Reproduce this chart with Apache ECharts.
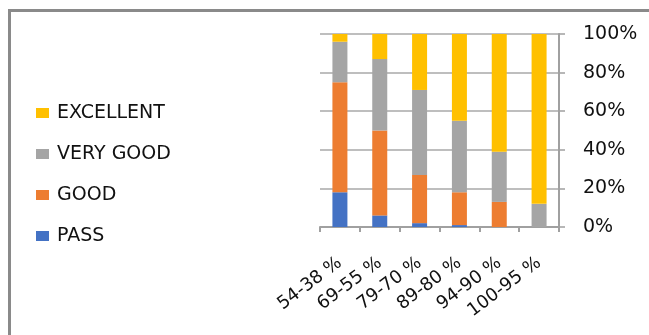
<!DOCTYPE html>
<html>
<head>
<meta charset="utf-8">
<script src="https://cdn.jsdelivr.net/npm/echarts@6/dist/echarts.min.js"></script>
<style>
  html, body { margin: 0; padding: 0; background: #fff; }
  #chart { width: 649px; height: 335px; }
</style>
</head>
<body>
<div id="chart"></div>
<script>
// Score bands and the share of each grade inside them (percent of the band)
const categories = ['54-38 %', '69-55 %', '79-70 %', '89-80 %', '94-90 %', '100-95 %'];
const pass      = [18, 6, 2, 1, 0, 0];
const good      = [57, 44, 25, 17, 13, 0];
const veryGood  = [21, 37, 44, 37, 26, 12];
const excellent = [4, 13, 29, 45, 61, 88];
const yTicks = [0, 20, 40, 60, 80, 100];

const FONT = 'DejaVu Sans';
const chart = echarts.init(document.getElementById('chart'), null, { renderer: 'canvas' });

function bar(name, data, color) {
  return {
    name: name,
    type: 'bar',
    stack: 'share',
    data: data,
    barWidth: 15,
    itemStyle: { color: color },
    emphasis: { disabled: true }
  };
}

chart.setOption({
  animation: false,
  backgroundColor: '#ffffff',
  textStyle: { fontFamily: FONT },
  graphic: [{
    type: 'polyline',
    shape: { points: [[9.5, 340], [9.5, 10.5], [660, 10.5]] },
    style: { stroke: '#8a8a8a', lineWidth: 3, fill: null },
    silent: true
  }],
  legend: {
    orient: 'vertical',
    left: 36,
    top: 103,
    padding: 0,
    itemWidth: 13,
    itemHeight: 10,
    itemGap: 21,
    icon: 'rect',
    data: ['EXCELLENT', 'VERY GOOD', 'GOOD', 'PASS'],
    textStyle: { fontFamily: FONT, fontSize: 19, color: '#111', lineHeight: 20, padding: [0, 0, 0, 3] },
    selectedMode: false
  },
  grid: { left: 320, right: 90, top: 34, bottom: 108, containLabel: false },
  xAxis: {
    type: 'category',
    data: categories,
    boundaryGap: true,
    axisLine: { show: true, lineStyle: { color: '#a0a0a0', width: 2 } },
    axisTick: { show: true, alignWithLabel: false, length: 5, lineStyle: { color: '#a0a0a0', width: 2 } },
    axisLabel: {
      rotate: 37,
      margin: 34,
      interval: 0,
      fontFamily: FONT,
      fontSize: 18,
      color: '#111'
    }
  },
  yAxis: {
    type: 'value',
    position: 'right',
    min: yTicks[0],
    max: yTicks[yTicks.length - 1],
    interval: 20,
    axisLine: { show: true, lineStyle: { color: '#a0a0a0', width: 2 } },
    axisTick: { show: true, inside: false, length: 6, lineStyle: { color: '#a0a0a0', width: 1.5 } },
    splitLine: { show: true, lineStyle: { color: '#a8a8a8', width: 1.5 } },
    axisLabel: {
      margin: 24,
      fontFamily: FONT,
      fontSize: 19,
      color: '#111',
      formatter: '{value}%'
    }
  },
  series: [
    bar('PASS', pass, '#4472C4'),
    bar('GOOD', good, '#ED7D31'),
    bar('VERY GOOD', veryGood, '#A5A5A5'),
    bar('EXCELLENT', excellent, '#FFC000')
  ]
});
</script>
</body>
</html>
